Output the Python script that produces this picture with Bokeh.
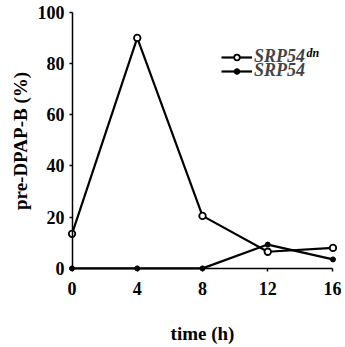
from bokeh.plotting import figure
from bokeh.models import Range1d, Legend, LegendItem, Label, FixedTicker, LinearAxis
from bokeh.embed import file_html
from bokeh.resources import INLINE

time_h = [0, 4, 8, 12, 16]
srp54_dn = [13.5, 90, 20.5, 6.5, 8]
srp54 = [0, 0, 0, 9.3, 3.5]
x_ticks = [0, 4, 8, 12, 16]
y_ticks = [0, 20, 40, 60, 80, 100]

FONT = "Liberation Serif"

p = figure(frame_width=274, frame_height=265, output_backend="svg", toolbar_location=None,
           x_range=Range1d(-0.4, 16.4), y_range=Range1d(-2, 101.5),
           min_border_left=65, min_border_right=2, min_border_top=8, min_border_bottom=60)
p.outline_line_color = None
p.xgrid.visible = False
p.ygrid.visible = False

r_dn_line = p.line(time_h, srp54_dn, line_color="black", line_width=2.2)
r_dn_pts = p.scatter(time_h, srp54_dn, marker="circle", size=6.5, fill_color="white",
                     line_color="black", line_width=1.8)
r_line = p.line(time_h, srp54, line_color="black", line_width=2.2)
r_pts = p.scatter(time_h, srp54, marker="circle", size=5, fill_color="black", line_color="black")

# label-only axes at the frame edges
for ax, ticks in ((p.xaxis[0], x_ticks), (p.yaxis[0], y_ticks)):
    ax.ticker = FixedTicker(ticks=ticks)
    ax.axis_line_color = None
    ax.major_tick_line_color = None
    ax.major_tick_in = 0
    ax.major_tick_out = 0
    ax.minor_tick_line_color = None
    ax.major_label_text_font = FONT
    ax.major_label_text_font_style = "bold"
    ax.major_label_text_font_size = "18px"
    ax.major_label_text_color = "black"
    ax.axis_label_text_font = FONT
    ax.axis_label_text_font_style = "bold"
    ax.axis_label_text_font_size = "19px"
    ax.axis_label_text_color = "black"

p.xaxis[0].axis_label = "time (h)"
p.xaxis[0].axis_label_standoff = 25
p.xaxis[0].major_label_standoff = 8
p.yaxis[0].axis_label = "pre-DPAP-B (%)"
p.yaxis[0].axis_label_standoff = 4
p.yaxis[0].major_label_standoff = 1

# axis lines and ticks crossing at the data origin
def line_axis(ticks, bounds):
    return LinearAxis(ticker=FixedTicker(ticks=ticks), fixed_location=0, bounds=bounds,
                      axis_line_width=1.5, axis_line_color="black",
                      major_tick_line_width=1.5, major_tick_in=3, major_tick_out=0,
                      minor_tick_line_color=None, major_label_text_color=None,
                      major_label_text_font_size="1px", major_label_standoff=0)

p.add_layout(line_axis(y_ticks, (y_ticks[0], y_ticks[-1])), "right")
p.add_layout(line_axis(x_ticks, (x_ticks[0], x_ticks[-1])), "above")

common = dict(border_line_color=None, background_fill_alpha=0, label_text_font=FONT,
              label_text_font_style="bold italic", label_text_font_size="18px",
              glyph_height=14, glyph_width=31, spacing=0, padding=0, margin=0,
              label_standoff=2)
leg1 = Legend(items=[LegendItem(label="SRP54", renderers=[r_dn_line, r_dn_pts])],
              location=(156, 206), **common)
leg2 = Legend(items=[LegendItem(label="SRP54", renderers=[r_line, r_pts])],
              location=(156, 192), **common)
p.add_layout(leg1)
p.add_layout(leg2)

p.add_layout(Label(x=241, y=221, x_units="screen", y_units="screen", text="dn",
                   text_font=FONT, text_font_style="bold italic", text_font_size="12px",
                   text_baseline="alphabetic", text_color="black"))

open("out.html", "w").write(file_html(p, INLINE))
